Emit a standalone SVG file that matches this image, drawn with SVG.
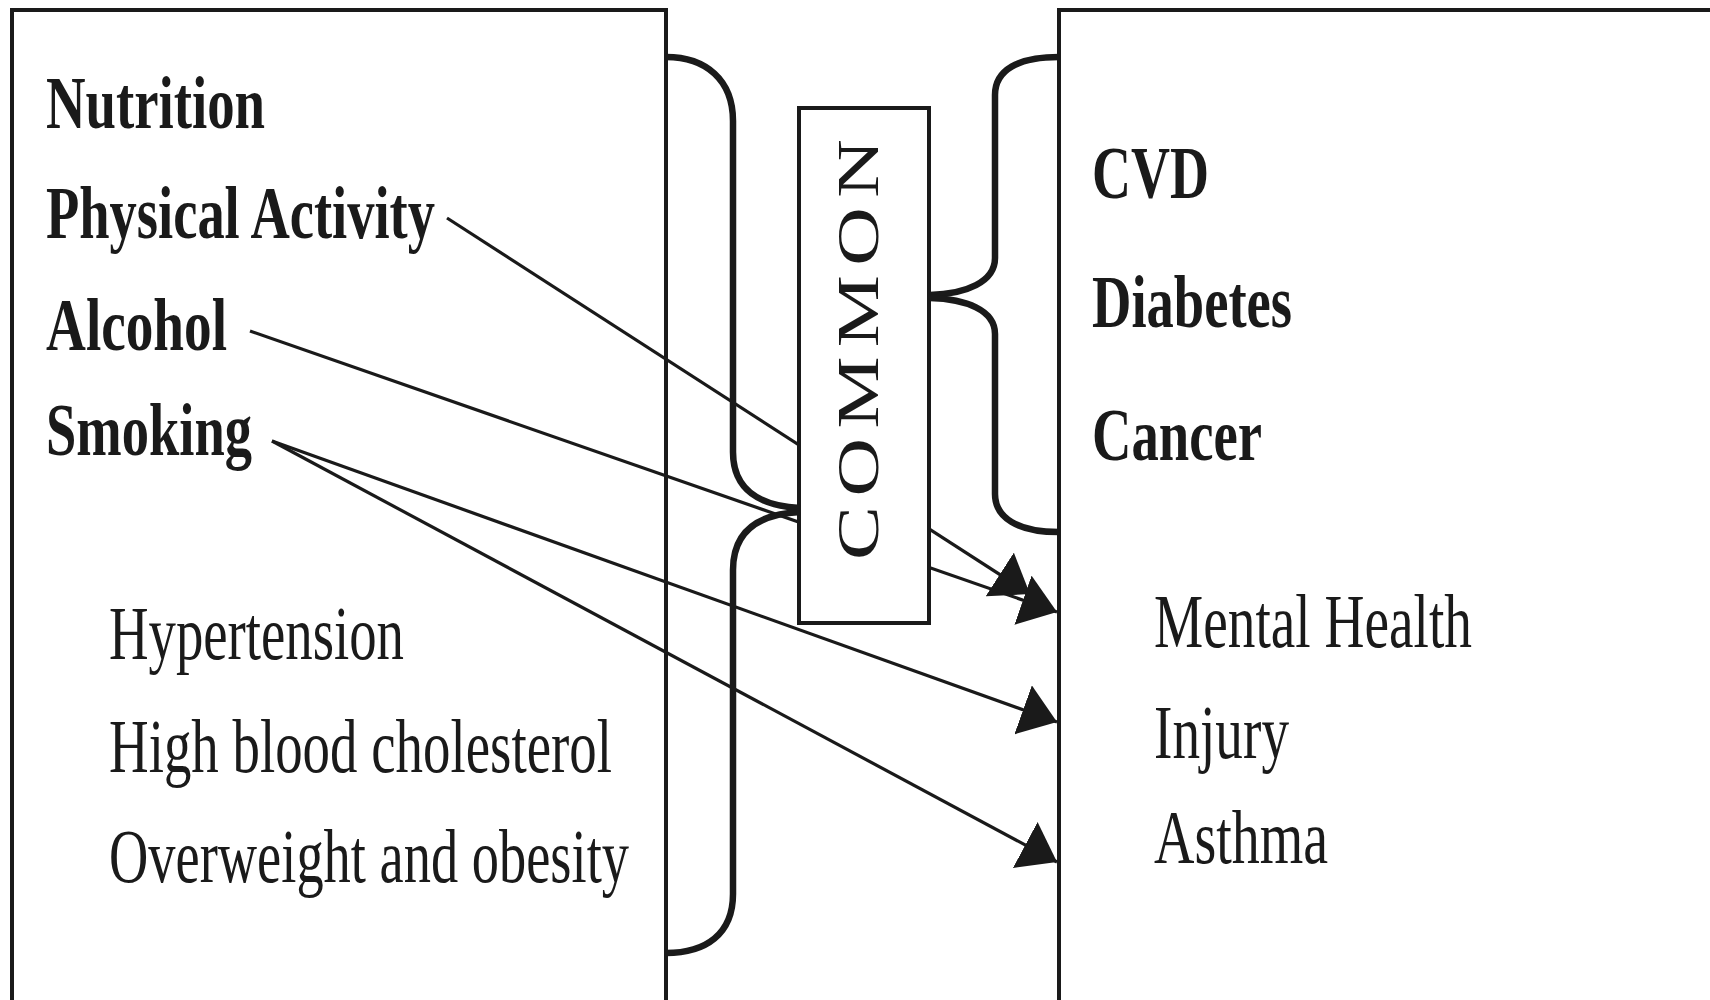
<svg xmlns="http://www.w3.org/2000/svg" width="1710" height="1000" viewBox="0 0 1710 1000">
<style>
.box{fill:none;stroke:#1a1a1a;stroke-width:4}
.cbox{fill:#ffffff;stroke:#1a1a1a;stroke-width:4}
.brace{fill:none;stroke:#1a1a1a;stroke-width:6.5;stroke-linecap:butt}
.conn{fill:none;stroke:#1a1a1a;stroke-width:3.2}
.b{font-family:"Liberation Serif","Times New Roman",serif;font-weight:bold;font-size:74px;fill:#1a1a1a}
.r{font-family:"Liberation Serif","Times New Roman",serif;font-weight:normal;font-size:76px;fill:#1a1a1a}
.c{font-family:"Liberation Serif","Times New Roman",serif;font-weight:normal;font-size:60px;fill:#1a1a1a}
</style>
<defs>
<marker id="ah" markerUnits="userSpaceOnUse" markerWidth="36" markerHeight="52" viewBox="0 0 36 52" refX="36" refY="26" orient="auto">
<path d="M0,0 L36,26 L0,52 z" fill="#1a1a1a"/>
</marker>
</defs>
<rect width="1710" height="1000" fill="#ffffff"/>

<g id="risk-factors">
<rect class="box" x="12" y="10" width="654" height="1010"/>
<text class="b" x="46" y="128" textLength="219" lengthAdjust="spacingAndGlyphs">Nutrition</text>
<text class="b" x="46" y="238" textLength="389" lengthAdjust="spacingAndGlyphs">Physical Activity</text>
<text class="b" x="46" y="350" textLength="181" lengthAdjust="spacingAndGlyphs">Alcohol</text>
<text class="b" x="46" y="455" textLength="206" lengthAdjust="spacingAndGlyphs">Smoking</text>
<text class="r" x="109" y="659" textLength="295" lengthAdjust="spacingAndGlyphs">Hypertension</text>
<text class="r" x="109" y="772" textLength="503" lengthAdjust="spacingAndGlyphs">High blood cholesterol</text>
<text class="r" x="109" y="882" textLength="520" lengthAdjust="spacingAndGlyphs">Overweight and obesity</text>
</g>

<g id="conditions">
<rect class="box" x="1059" y="10" width="700" height="1010"/>
<text class="b" x="1092" y="198" textLength="117" lengthAdjust="spacingAndGlyphs">CVD</text>
<text class="b" x="1092" y="327" textLength="200" lengthAdjust="spacingAndGlyphs">Diabetes</text>
<text class="b" x="1092" y="460" textLength="170" lengthAdjust="spacingAndGlyphs">Cancer</text>
<text class="r" x="1154" y="647" textLength="318" lengthAdjust="spacingAndGlyphs">Mental Health</text>
<text class="r" x="1154" y="758" textLength="135" lengthAdjust="spacingAndGlyphs">Injury</text>
<text class="r" x="1154" y="863" textLength="174" lengthAdjust="spacingAndGlyphs">Asthma</text>
</g>

<g id="connectors">
<path class="conn" d="M447,218 L1030,594" marker-end="url(#ah)"/>
<path class="conn" d="M250,331 L1057,612" marker-end="url(#ah)"/>
<path class="conn" d="M272,441 L1057,722" marker-end="url(#ah)"/>
<path class="conn" d="M272,441 L1057,862" marker-end="url(#ah)"/>
</g>

<g id="common">
<rect class="cbox" x="799" y="108" width="130" height="515"/>
<text class="c" transform="translate(878,560) rotate(-90) scale(1.35,1)" letter-spacing="7">COMMON</text>
</g>

<g id="left-brace">
<path class="brace" d="M666,57 C706,57 733,80 733,121 L733,452 C733,490 760,506 800,508"/>
<path class="brace" d="M800,512 C760,514 733,530 733,570 L733,894 C733,934 706,953 666,953"/>
</g>

<g id="right-brace">
<path class="brace" d="M1059,57 C1018,57 995,70 995,95 L995,258 C995,282 966,294 930,295"/>
<path class="brace" d="M930,298 C966,299 995,310 995,334 L995,494 C995,518 1018,532 1059,532"/>
</g>
</svg>
